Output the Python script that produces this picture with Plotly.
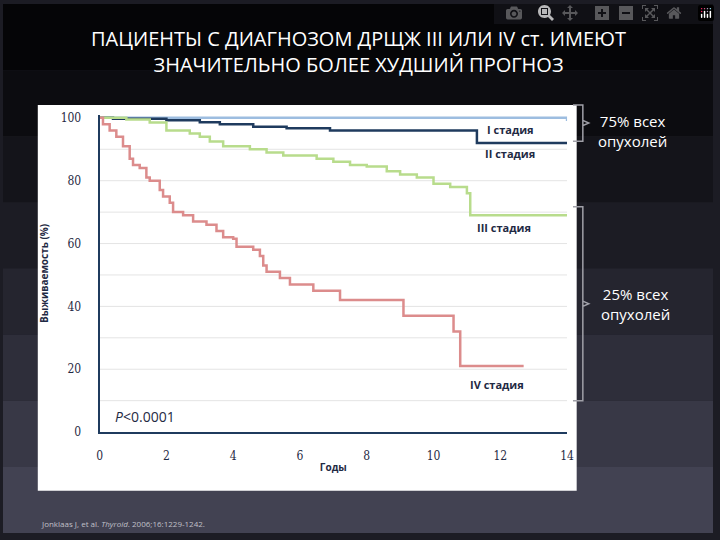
import plotly.graph_objects as go

t1 = [0, 14]
s1 = [100, 99]
t2 = [0, 0.4, 2.0, 3.0, 3.6, 4.6, 5.6, 6.9, 11.3, 14]
s2 = [100, 99.7, 99.2, 98.6, 98, 97.2, 96.7, 96, 92, 92]
t3 = [0, 0.8, 1.5, 2.0, 2.7, 3.0, 3.3, 3.7, 4.5, 5.0, 5.5, 6.5, 7.0, 7.5, 8.0, 8.6, 9.0, 9.5, 10.0, 10.5, 11.0, 11.1, 14]
s3 = [100, 99.5, 98.5, 96, 95, 94, 92.5, 91, 90, 89, 88, 87, 86, 85, 84.5, 83, 82, 81, 79, 78, 76, 69, 69]
t4 = [0, 0.1, 0.3, 0.5, 0.7, 0.9, 1.0, 1.2, 1.4, 1.5, 1.8, 1.9, 2.1, 2.2, 2.5, 2.8, 3.2, 3.5, 3.7, 4.0, 4.1, 4.6, 4.8, 4.9, 5.0, 5.4, 5.7, 6.4, 7.2, 9.1, 10.6, 10.8, 12.7]
s4 = [100, 98, 96, 94, 91, 87, 85, 84, 81, 80, 77, 75, 73, 70, 69, 67, 66, 64, 62, 61.5, 59, 58, 56, 53, 51, 49, 47, 45, 42, 37, 32, 21, 21]

fig = go.Figure()
for t, s, c in [(t1, s1, "#9dbde0"), (t2, s2, "#1f3b5e"), (t3, s3, "#b8dc8c"), (t4, s4, "#dc8c8c")]:
    fig.add_trace(go.Scatter(x=t, y=s, mode="lines", line=dict(color=c, width=2.5, shape="hv"), showlegend=False))

shapes = []
cols = ["#050507", "#0c0c10", "#14141a", "#1c1c24", "#25252f", "#2e2e3a", "#383846", "#424252"]
n = len(cols)
for i, c in enumerate(cols):
    shapes.append(dict(type="rect", xref="paper", yref="paper", x0=0, x1=1,
                       y0=1 - (i + 1) / n, y1=1 - i / n, fillcolor=c, line=dict(width=0), layer="below"))
shapes.append(dict(type="rect", xref="paper", yref="paper", x0=0.049, x1=0.808, y0=0.08, y1=0.809,
                   fillcolor="white", line=dict(width=0), layer="below"))

def bracket(ytop, ybot):
    xs = 578 / 720; xm = 588 / 720; xt = 594 / 720
    ymid = (ytop + ybot) / 2
    Y = lambda p: 1 - p / 540
    return [dict(type="path", xref="paper", yref="paper",
                 path=f"M {xs},{Y(ytop)} L {xm},{Y(ytop)} L {xm},{Y(ymid)-0.005} L {xt},{Y(ymid)} L {xm},{Y(ymid)+0.005} L {xm},{Y(ybot)} L {xs},{Y(ybot)}",
                 line=dict(color="#a0a0a8", width=1.5))]
shapes += bracket(103, 140) + bracket(207, 405)

P = dict(xref="paper", yref="paper", showarrow=False, xanchor="center", yanchor="middle")
D = dict(showarrow=False, xanchor="center", yanchor="middle")
ann = [
    dict(text="ПАЦИЕНТЫ С ДИАГНОЗОМ ДРЩЖ III ИЛИ IV ст. ИМЕЮТ<br>ЗНАЧИТЕЛЬНО БОЛЕЕ ХУДШИЙ ПРОГНОЗ", x=0.5, y=1 - 48 / 540,
         font=dict(color="white", size=20), align="center", **P),
    dict(text="75% всех<br>опухолей", x=638 / 720, y=1 - 130 / 540, font=dict(color="white", size=15), **P),
    dict(text="25% всех<br>опухолей", x=641 / 720, y=1 - 306 / 540, font=dict(color="white", size=15), **P),
    dict(text="Jonklaas J, et al. <i>Thyroid</i>. 2006;16:1229-1242.", x=37 / 720, y=1 - 530 / 540, xref="paper", yref="paper",
         showarrow=False, xanchor="left", yanchor="middle", font=dict(color="#c0c0c8", size=8)),
    dict(text="<b>I стадия</b>", x=12.3, y=96.3, font=dict(color="#1f2a44", size=11), **D),
    dict(text="<b>II стадия</b>", x=12.3, y=88.5, font=dict(color="#1f2a44", size=11), **D),
    dict(text="<b>III стадия</b>", x=12.1, y=65.2, font=dict(color="#1f2a44", size=11), **D),
    dict(text="<b>IV стадия</b>", x=11.9, y=15, font=dict(color="#1f2a44", size=11), **D),
    dict(text="<i>P</i><0.0001", x=0.4, y=5, showarrow=False, xanchor="left", yanchor="middle", font=dict(color="#1f2a44", size=14)),
]

fig.update_layout(
    width=720, height=540, margin=dict(l=0, r=0, t=0, b=0),
    paper_bgcolor="#1c1c24", plot_bgcolor="white",
    font=dict(family="Open Sans"),
    shapes=shapes, annotations=ann,
    xaxis=dict(domain=[98 / 720, 572 / 720], range=[0, 14], tickvals=[0, 2, 4, 6, 8, 10, 12, 14], showgrid=False,
               showline=True, linecolor="#1f3b5e", linewidth=2, zeroline=False, ticks="", ticklabelstandoff=12,
               tickfont=dict(color="#1f2a44", size=12, family="DejaVu Serif Condensed, DejaVu Serif"),
               title=dict(text="<b>Годы</b>", font=dict(color="#1f2a44", size=10), standoff=2)),
    yaxis=dict(domain=[103 / 540, 427 / 540], range=[0, 101], tickvals=[0, 20, 40, 60, 80, 100],
               showgrid=False, showline=True, linecolor="#1f3b5e", linewidth=2, zeroline=False, ticklabelstandoff=14,
               tickfont=dict(color="#1f2a44", size=12, family="DejaVu Serif Condensed, DejaVu Serif"),
               title=dict(text="<b>Выживаемость (%)</b>", font=dict(color="#1f2a44", size=10), standoff=10)),
)
for g in range(10, 101, 10):
    fig.add_shape(type="line", xref="x", yref="y", x0=0, x1=14, y0=g, y1=g, line=dict(color="#e4e4e4", width=1), layer="below")
fig.write_html("out.html", post_script="document.body.style.margin='0';")
